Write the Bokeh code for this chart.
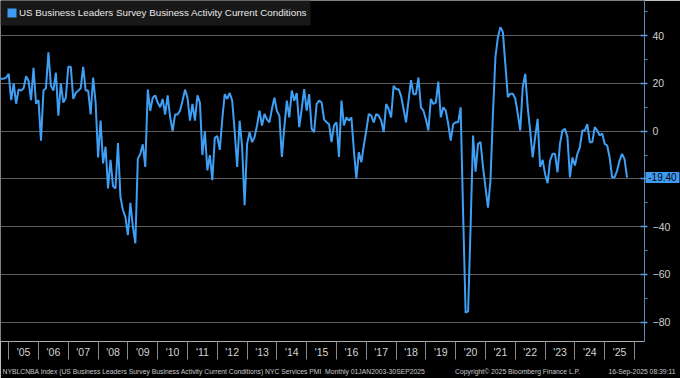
from bokeh.plotting import figure
from bokeh.models import FixedTicker, Label, Range1d
from bokeh.core.properties import value
from bokeh.embed import file_html
from bokeh.resources import INLINE

# Monthly values (plotted at month end). 2004 starts in August.
v2004 = [22, 22, 22, 22.5, 24]
v2005 = [13, 20, 11.5, 17.5, 17, 18, 23, 21, 13, 26.5, 11.5, 13]
v2006 = [-4, 17, 18, 33, 19, 17, 24.5, 6.5, 20, 12, 14, 27]
v2007 = [27, 13.5, 16, 17, 18, 27, 17, 17, 7, 22.5, 12, -11]
v2008 = [4.5, -13.5, -6.5, -24, -12, -23, -24, -5, -27.5, -33, -36, -43.5]
v2009 = [-30, -40, -47, -11.5, -9.5, -5.5, -15, 17.5, 8.5, 14, 15, 12]
v2010 = [10, 13.5, 7, 15, 6, 0, 7, 7, 8.6, 12.8, 17.4, 14]
v2011 = [4.4, 11.4, 4.4, 15, 12, -10, 0, -16.4, -10, -20.5, -2.8, -2]
v2012 = [-7.8, 5, 15.5, 13.5, 16, 12.8, 0, -15, 4.4, -6.7, -31, -5.3]
v2013 = [-0.4, -4.6, -2.5, 2.4, 8.6, 2.4, 7.2, 5, 3.7, 9.3, 14, 8.5]
v2014 = [6.5, -10.8, 1.7, 12.8, 5.8, 17, 12.8, 16, 1.7, 9.3, 17.6, 8.6]
v2015 = [15.5, 1, -0.4, 11.4, 12.8, 12, 5, 3.7, 3, -4.6, 2.4, 3.7]
v2016 = [-10.8, 12.8, 2.4, 5.8, 4.4, 5.8, -8, -19.9, -8.8, -13, -6, 0.3]
v2017 = [7.2, 6.5, 3.7, 7.2, 6.5, 4.5, -0.4, 11.4, 9.3, 5.8, 19, 17.6]
v2018 = [17.6, 14.8, 9.3, 3.7, 12.8, 21.4, 15.5, 15.5, 22.5, 10, 8.6, 5]
v2019 = [0.3, 13.5, 11.4, 12, 20.8, 5.8, 10, 8.6, 3, -3.9, 3, 3.7]
v2020 = [3.7, 10, -35, -76, -75.5, -40, -1.8, -17, -5.3, -4.6, -15, -23.5]
v2021 = [-32, -20.7, 7.3, 31, 39.4, 43.6, 41.5, 28, 14.3, 15.7, 15.7, 13.6]
v2022 = [7.3, 0.3, 18.5, 24, 10, 0, -11, -2.5, 5.2, -15, -12, -18]
v2023 = [-21.8, -12.3, -9.5, -9.5, -17.2, -5.3, 0.3, 1, -2.5, -19.3, -11, -14.4]
v2024 = [-9.5, -6.7, 0.3, 0.3, 3, -4.6, -4.6, 1.7, 0.3, -1.8, -1, -5.3]
v2025 = [-6, -11, -19.3, -19.3, -16.5, -12.3, -9.5, -11.7, -19.4]

years = list(range(2004, 2026))
series = [v2004, v2005, v2006, v2007, v2008, v2009, v2010, v2011, v2012, v2013, v2014,
          v2015, v2016, v2017, v2018, v2019, v2020, v2021, v2022, v2023, v2024, v2025]
first_month = {2004: 8}

y_major = [40, 20, 0, -20, -40, -60, -80]
y_minor = [50, 30, 10, -10, -30, -50, -70]
year_labels = ["'%02d" % (y % 100) for y in range(2005, 2026)]

last_value = v2025[-1]
legend_text = "US Business Leaders Survey Business Activity Current Conditions"
footer_left = ("NYBLCNBA Index (US Business Leaders Survey Business Activity Current Conditions) "
               "NYC Services PMI\u00a0 Monthly 01JAN2003-30SEP2025")
footer_mid = "Copyright\u00a9 2025 Bloomberg Finance L.P."
footer_right = "16-Sep-2025 08:39:11"

xs, ys = [], []
for yr, vals in zip(years, series):
    m0 = first_month.get(yr, 1)
    for i, v in enumerate(vals):
        xs.append(yr + (m0 + i) / 12.0)
        ys.append(v)

BLUE = "#3f9ff5"
FONT = "Liberation Sans"

W, H = 680, 378
FW, FH = 644, 342          # frame size in px
X0, X1 = 2004.725, 2026.336
Y0, Y1 = -88.1, 54.75
ppx = FW / (X1 - X0)
ppy = FH / (Y1 - Y0)


def dx(px):
    return X0 + px / ppx


def dy(py):
    return Y1 - py / ppy


p = figure(width=W, height=H, output_backend="svg", toolbar_location=None,
           x_range=Range1d(X0, X1), y_range=Range1d(Y0, Y1),
           y_axis_location="right",
           background_fill_color="black", border_fill_color="black",
           outline_line_color=None,
           min_border_left=0, min_border_top=0,
           min_border_right=W - FW, min_border_bottom=H - FH)

# grid
p.xgrid.visible = False
p.ygrid.grid_line_color = "#5e5e5e"
p.ygrid.grid_line_width = 1

# right axis
ya = p.yaxis[0]
ya.ticker = FixedTicker(ticks=y_major, minor_ticks=y_minor)
ya.major_label_overrides = {-20: ""}
ya.axis_line_color = "#5f86b0"
ya.major_tick_line_color = "#5f9ae0"
ya.major_tick_line_width = 1.5
ya.major_tick_in = 4
ya.major_tick_out = 3
ya.minor_tick_line_color = "#5f86b0"
ya.minor_tick_in = 0
ya.minor_tick_out = 3
ya.major_label_text_color = "#d0d0d0"
ya.major_label_text_font = FONT
ya.major_label_text_font_size = "10.5px"
ya.major_label_standoff = 5

# bottom axis: labels at mid-year, minor ticks at year boundaries
xa = p.xaxis[0]
mids = [y + 0.5 for y in range(2005, 2026)]
xa.ticker = FixedTicker(ticks=mids, minor_ticks=list(range(2005, 2027)))
xa.major_label_overrides = {m: lab for m, lab in zip(mids, year_labels)}
xa.axis_line_color = "#b0b0b0"
xa.major_tick_out = 0
xa.major_tick_in = 0
xa.major_tick_line_color = None
xa.minor_tick_line_color = "#8a8a8a"
xa.minor_tick_out = 18
xa.minor_tick_in = 0
xa.major_label_text_color = "#d4d4d4"
xa.major_label_text_font = FONT
xa.major_label_text_font_size = "10.5px"
xa.major_label_standoff = -14

# series
p.line(xs, ys, line_color=BLUE, line_width=2)

# legend box (drawn inside the frame, top-left)
p.quad(left=[dx(0)], right=[dx(310)], top=[dy(0)], bottom=[dy(25)],
       fill_color="#181818", line_color=None)
p.quad(left=[dx(7)], right=[dx(16)], top=[dy(8)], bottom=[dy(17)],
       fill_color="#3d9cf2", line_color=None)
p.text(x=[dx(18.5)], y=[dy(12.5)], text=[legend_text], text_font=value(FONT),
       text_font_size="9.8px", text_color="#e8e8e8", text_baseline="middle", text_align="left")

# footer (one label in the bottom panel so it is not clipped to the frame)
footer = footer_left + "\u00a0" * 16 + footer_mid + "\u00a0" * 15 + footer_right
p.add_layout(Label(x=dx(2), y=dy(372), text=footer, text_font=FONT,
                   text_font_size="6.8px", text_color="#c8c8c8",
                   text_align="left", text_baseline="middle"), "below")

# last value tag on the right axis
tag = Label(x=dx(645), y=last_value,
            text="\u00a0%.2f\u00a0" % last_value,
            text_font=FONT, text_font_size="10px", text_color="black",
            text_align="left", text_baseline="middle",
            background_fill_color="#3d9cf2", padding=0)
p.add_layout(tag, "below")

open("out.html", "w").write(file_html(p, INLINE))
